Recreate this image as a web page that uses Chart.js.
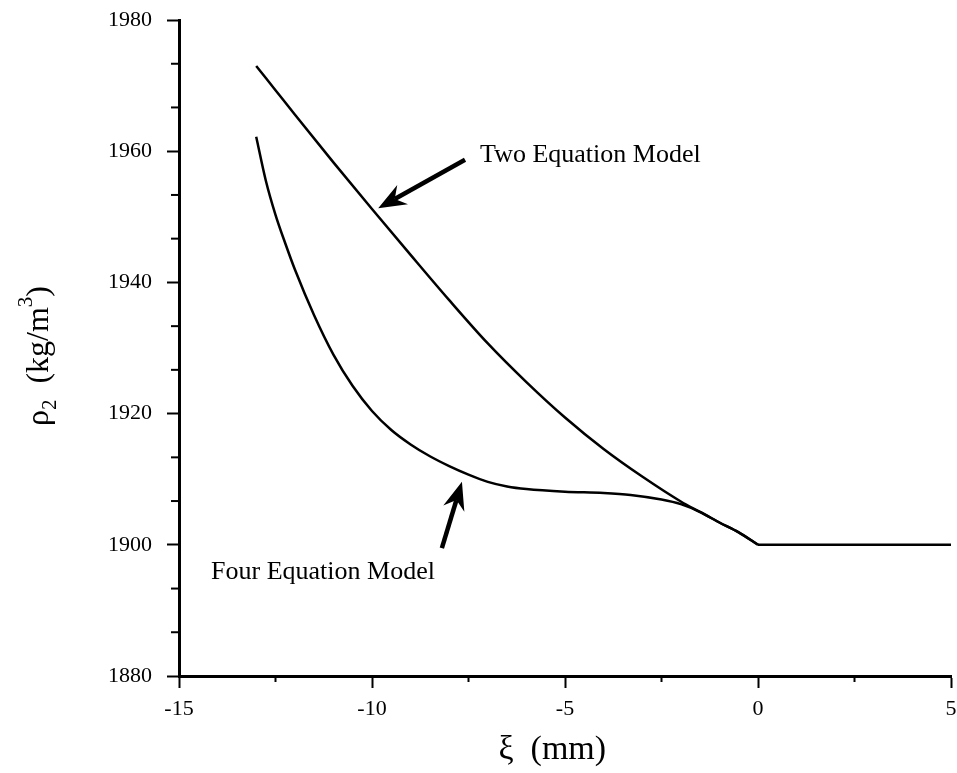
<!DOCTYPE html>
<html>
<head>
<meta charset="utf-8">
<script src="https://cdn.jsdelivr.net/npm/chart.js@4/dist/chart.umd.min.js"></script>
<style>
html,body{margin:0;padding:0;background:#fff;}
canvas{display:block;}
</style>
</head>
<body>
<canvas id="c" width="957" height="773"></canvas>
<script>
// ---- data ----
const twoX  = [-13.0, -12.5, -12.0, -11.0, -10.0, -9.0, -8.0, -7.0, -6.0, -5.0, -4.0, -3.0, -2.0, -1.5, -1.0, -0.5, 0];
const twoY  = [1973.0, 1969.3, 1965.6, 1958.3, 1951.2, 1944.2, 1937.3, 1930.7, 1924.8, 1919.4, 1914.6, 1910.4, 1906.6, 1905.0, 1903.4, 1901.9, 1900];
const fourX = [-13.0, -12.75, -12.5, -12.25, -12.0, -11.5, -11.0, -10.5, -10.0, -9.5, -9.0, -8.5, -8.0, -7.5, -7.0, -6.5, -6.0, -5.0, -4.0, -3.3, -2.5, -2.0, -1.5, -1.0, -0.5, 0];
const fourY = [1962.2, 1955.5, 1950.3, 1946.0, 1942.0, 1935.0, 1929.0, 1924.2, 1920.4, 1917.5, 1915.3, 1913.5, 1912.0, 1910.7, 1909.6, 1908.9, 1908.5, 1908.1, 1907.9, 1907.6, 1906.9, 1906.2, 1905.0, 1903.4, 1901.9, 1900];
// both models coincide for xi >= 0
const flatX = [0, 5];
const flatY = [1900, 1900];

const xTicks = [-15, -10, -5, 0, 5];
const xMinorTicks = [-12.5, -7.5, -2.5, 2.5];
const yTicks = [1880, 1900, 1920, 1940, 1960, 1980];
const yMinorTicks = [1886.67, 1893.33, 1906.67, 1913.33, 1926.67, 1933.33, 1946.67, 1953.33, 1966.67, 1973.33];

const xTitle = 'ξ  (mm)   ';
const seriesNames = ['Two Equation Model', 'Four Equation Model'];

// annotation anchors in data units
const labelAt = [[-7.2, 1958.4], [-14.17, 1894.8]];
const arrowFrom = [[-7.59, 1958.7], [-8.19, 1899.5]];
const arrowTo = [[-9.84, 1951.3], [-7.67, 1909.6]];

const FONT = '"Liberation Serif", "Times New Roman", Times, serif';

function pts(xs, ys) { return xs.map((x, i) => ({x: x, y: ys[i]})); }

const extras = {
  id: 'extras',
  afterDraw(chart) {
    const ctx = chart.ctx;
    const xs = chart.scales.x, ys = chart.scales.y;
    ctx.save();
    ctx.strokeStyle = '#000';
    ctx.fillStyle = '#000';
    ctx.lineWidth = 2;
    // minor ticks
    yMinorTicks.forEach(v => {
      const py = ys.getPixelForValue(v);
      ctx.beginPath(); ctx.moveTo(ys.right - 8, py); ctx.lineTo(ys.right, py); ctx.stroke();
    });
    xMinorTicks.forEach(v => {
      const px = xs.getPixelForValue(v);
      ctx.beginPath(); ctx.moveTo(px, xs.top); ctx.lineTo(px, xs.top + 6); ctx.stroke();
    });
    // annotations
    ctx.font = '26px ' + FONT;
    ctx.textAlign = 'left';
    ctx.textBaseline = 'alphabetic';
    seriesNames.forEach((name, i) => {
      ctx.fillText(name, xs.getPixelForValue(labelAt[i][0]), ys.getPixelForValue(labelAt[i][1]));
      const x0 = xs.getPixelForValue(arrowFrom[i][0]), y0 = ys.getPixelForValue(arrowFrom[i][1]);
      const x1 = xs.getPixelForValue(arrowTo[i][0]), y1 = ys.getPixelForValue(arrowTo[i][1]);
      const ang = Math.atan2(y1 - y0, x1 - x0);
      const L = 28, W = 11, N = 19;
      const bx = x1 - N * Math.cos(ang), by = y1 - N * Math.sin(ang);
      ctx.lineWidth = 4.5;
      ctx.beginPath(); ctx.moveTo(x0, y0); ctx.lineTo(bx, by); ctx.stroke();
      ctx.beginPath();
      ctx.moveTo(x1, y1);
      ctx.lineTo(x1 - L * Math.cos(ang) + W * Math.sin(ang), y1 - L * Math.sin(ang) - W * Math.cos(ang));
      ctx.lineTo(bx, by);
      ctx.lineTo(x1 - L * Math.cos(ang) - W * Math.sin(ang), y1 - L * Math.sin(ang) + W * Math.cos(ang));
      ctx.closePath();
      ctx.fill();
    });
    // y-axis title with subscript / superscript
    ctx.translate(48, 356);
    ctx.rotate(-Math.PI / 2);
    const big = '32px ' + FONT, small = '21px ' + FONT;
    const parts = [
      {t: 'ρ', f: big, dy: 0},
      {t: '2', f: small, dy: 8},
      {t: '  (kg/m', f: big, dy: 0},
      {t: '3', f: small, dy: -16},
      {t: ')', f: big, dy: 0}
    ];
    let total = 0;
    parts.forEach(p => { ctx.font = p.f; p.w = ctx.measureText(p.t).width; total += p.w; });
    let cx = -total / 2;
    parts.forEach(p => { ctx.font = p.f; ctx.fillText(p.t, cx, p.dy); cx += p.w; });
    ctx.restore();
  }
};

const lineStyle = {borderColor: '#000', borderWidth: 2.5, pointRadius: 0, fill: false, cubicInterpolationMode: 'monotone'};

new Chart(document.getElementById('c'), {
  type: 'line',
  data: {
    datasets: [
      Object.assign({label: seriesNames[0], data: pts(twoX, twoY)}, lineStyle),
      Object.assign({label: seriesNames[1], data: pts(fourX, fourY)}, lineStyle),
      Object.assign({label: 'ξ ≥ 0 (both models)', data: pts(flatX, flatY)}, lineStyle)
    ]
  },
  options: {
    responsive: false,
    devicePixelRatio: 1,
    animation: false,
    layout: {padding: {top: 20, right: 6, left: 0, bottom: 0}},
    plugins: {legend: {display: false}, tooltip: {enabled: false}},
    scales: {
      x: {
        type: 'linear', position: 'bottom', min: -15, max: 5,
        afterBuildTicks: s => { s.ticks = xTicks.map(v => ({value: v})); },
        afterFit: s => { s.height = 97; s.paddingLeft = 0; s.paddingRight = 0; },
        border: {display: true, color: '#000', width: 3},
        grid: {display: true, drawOnChartArea: false, drawTicks: true, tickLength: 12, tickColor: '#000', tickWidth: 2},
        ticks: {color: '#000', padding: 8, font: {family: FONT, size: 22}, maxRotation: 0, autoSkip: false,
                callback: v => String(v)},
        title: {display: true, text: xTitle, color: '#000', font: {family: FONT, size: 34}, padding: {top: 0, bottom: 3}}
      },
      y: {
        type: 'linear', position: 'left', min: 1880, max: 1980,
        afterBuildTicks: s => { s.ticks = yTicks.map(v => ({value: v})); },
        afterFit: s => { s.width = 179; s.paddingTop = 0; s.paddingBottom = 0; },
        border: {display: true, color: '#000', width: 3},
        grid: {display: true, drawOnChartArea: false, drawTicks: true, tickLength: 12, tickColor: '#000', tickWidth: 2},
        ticks: {color: '#000', padding: 15, font: {family: FONT, size: 22}, autoSkip: false,
                callback: v => String(v)}
      }
    }
  },
  plugins: [extras]
});
</script>
</body>
</html>
